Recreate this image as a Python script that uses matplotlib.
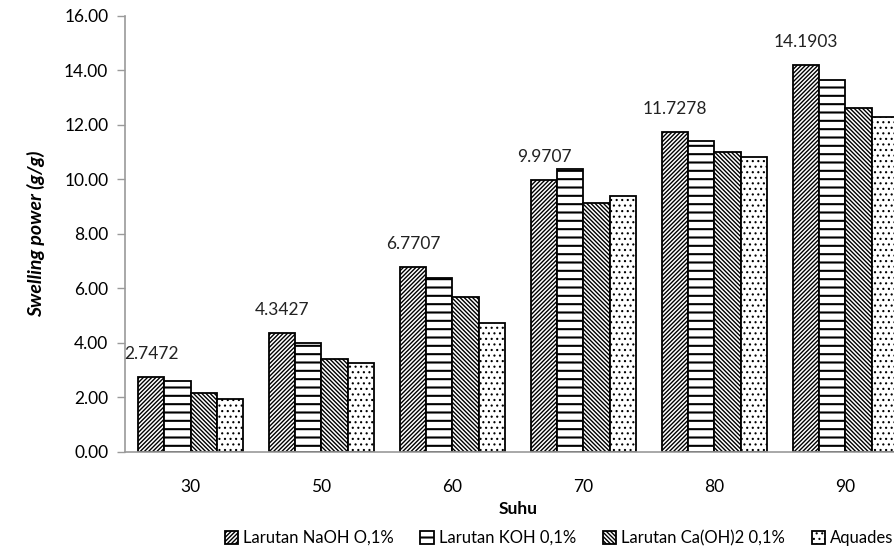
import matplotlib
matplotlib.use("Agg")
import matplotlib.pyplot as plt
import numpy as np

plt.rcParams['font.family'] = ['Lato', 'DejaVu Sans']
plt.rcParams['hatch.linewidth'] = 1.5
plt.rcParams['hatch.color'] = 'black'

# Temperature groups (°C) and swelling power per solvent (g/g)
suhu = ['30', '50', '60', '70', '80', '90']
naoh = [2.7472, 4.3427, 6.7707, 9.9707, 11.7278, 14.1903]
koh = [2.60, 3.98, 6.38, 10.37, 11.41, 13.64]
caoh2 = [2.14, 3.39, 5.66, 9.11, 11.01, 12.60]
aquades = [1.94, 3.24, 4.73, 9.37, 10.82, 12.27]

series_names = ['Larutan NaOH O,1%', 'Larutan KOH 0,1%',
                'Larutan Ca(OH)2 0,1%', 'Aquades']
series_values = [naoh, koh, caoh2, aquades]
hatches = ['////////', '--', '\\\\\\\\\\\\\\\\', '...']
hatch_lw = [1.0, 1.5, 1.0, 0.8]
y_ticks = [0, 2, 4, 6, 8, 10, 12, 14, 16]

fig = plt.figure(figsize=(8.95, 5.54), dpi=100)
ax = fig.add_axes([0.1397, 0.1847, 0.878, 0.7873])

x = np.arange(len(suhu))
width = 0.2
offsets = [-1.5, -0.5, 0.5, 1.5]
for vals, name, h, hl, off in zip(series_values, series_names, hatches,
                                  hatch_lw, offsets):
    bars = ax.bar(x + off * width, vals, width, label=name, color='white',
                  edgecolor='black', linewidth=1.3, hatch=h, zorder=2)
    for b in bars:
        if hasattr(b, 'set_hatch_linewidth'):
            b.set_hatch_linewidth(hl)

# value labels above the NaOH bars
for xi, v in zip(x, naoh):
    ax.annotate(f'{v:.4f}', (xi + offsets[0] * width, v), xytext=(0, 11),
                textcoords='offset points', ha='center', va='bottom',
                fontsize=12.5, color='#222222')

ax.set_xlim(-0.5, len(suhu) - 0.5)
ax.set_ylim(0, 16)
ax.set_yticks(y_ticks)
ax.set_yticklabels([f'{t:.2f}' for t in y_ticks], fontsize=12.5)
ax.set_xticks(x)
ax.set_xticklabels(suhu, fontsize=12.5)
ax.tick_params(axis='x', length=0, pad=20)
ax.tick_params(axis='y', length=6, width=1, color='#9a9a9a', pad=6)

for side in ['top', 'right']:
    ax.spines[side].set_visible(False)
for side in ['left', 'bottom']:
    ax.spines[side].set_color('#9a9a9a')
    ax.spines[side].set_linewidth(1.2)

ax.set_ylabel('Swelling power (g/g)', fontsize=14, fontweight='bold',
              fontstyle='italic', labelpad=14)
ax.set_xlabel('Suhu', fontsize=12.5, fontweight='bold', labelpad=4)

leg = fig.legend(loc='center', bbox_to_anchor=(559 / 895, 1 - 538 / 554),
                 ncol=4, frameon=False, fontsize=12, handlelength=0.8,
                 handleheight=0.8, handletextpad=0.3, columnspacing=1.6)
for patch, hl in zip(leg.get_patches(), hatch_lw):
    if hasattr(patch, 'set_hatch_linewidth'):
        patch.set_hatch_linewidth(hl)

fig.savefig('out.png', dpi=100)
